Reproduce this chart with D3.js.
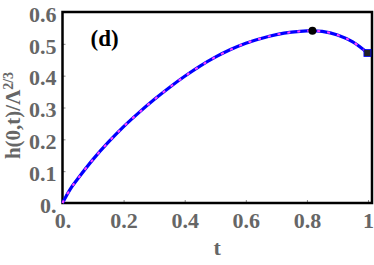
<!DOCTYPE html>
<html>
<head>
<meta charset="utf-8">
<script src="https://cdn.jsdelivr.net/npm/d3@7"></script>
<style>
body { margin: 0; background: #fff; }
.tick text { font-family: "Liberation Serif", "DejaVu Serif", serif; font-weight: bold; fill: #666; }
</style>
</head>
<body>
<svg width="374" height="265"></svg>
<script>
var margin = { top: 12, bottom: 62, left: 62.5, right: 2 };
var width = 374 - margin.left - margin.right;
var height = 265 - margin.top - margin.bottom;

// h(0,t)/Lambda^(2/3) vs t
const tVals = [0, 0.025, 0.05, 0.1, 0.15, 0.2, 0.25, 0.3, 0.35, 0.4, 0.45, 0.5, 0.55, 0.6, 0.65, 0.7, 0.75, 0.8, 0.85, 0.9, 0.95, 1.0];
const hVals = [0, 0.043, 0.076, 0.137, 0.191, 0.240, 0.284, 0.325, 0.363, 0.398, 0.430, 0.458, 0.482, 0.502, 0.517, 0.529, 0.537, 0.541, 0.539, 0.528, 0.506, 0.470];
const peak = [0.818, 0.541];
const endPt = [0.998, 0.471];
const xTicks = [0, 0.2, 0.4, 0.6, 0.8, 1];
const yTicks = [0, 0.1, 0.2, 0.3, 0.4, 0.5, 0.6];

const svg = d3.select("svg")
    .append("g")
    .attr("transform", `translate(${margin.left},${margin.top})`);

const x = d3.scaleLinear().domain([0, 1.013]).range([0, width]);
const y = d3.scaleLinear().domain([0, 0.6]).range([height, 0]);

const fmt = d => d === 0 ? "0." : (d === 1 ? "1" : d3.format(".1f")(d));

svg.append("g")
    .attr("transform", `translate(0,${height})`)
    .call(d3.axisBottom(x).tickValues(xTicks).tickFormat(fmt).tickSizeInner(-3).tickSizeOuter(0).tickPadding(9))
    .call(g => g.select(".domain").remove())
    .call(g => g.selectAll("line").attr("stroke", "#888"))
    .call(g => g.selectAll("text").style("font-size", "22px"));

svg.append("g")
    .call(d3.axisLeft(y).tickValues(yTicks).tickFormat(fmt).tickSizeInner(-3).tickSizeOuter(0).tickPadding(6))
    .call(g => g.select(".domain").remove())
    .call(g => g.selectAll("line").attr("stroke", "#888"))
    .call(g => g.selectAll("text").style("font-size", "22px").attr("dy", "0.42em"));

svg.append("rect")
    .attr("width", width)
    .attr("height", height)
    .attr("fill", "none")
    .attr("stroke", "#000")
    .attr("stroke-width", 2.5);

const pts = tVals.map((t, i) => [t, hVals[i]]);
const line = d3.line().x(d => x(d[0])).y(d => y(d[1])).curve(d3.curveCatmullRom.alpha(0.5));

svg.append("path")
    .datum(pts)
    .attr("d", line)
    .attr("fill", "none")
    .attr("stroke", "#0000ff")
    .attr("stroke-width", 3.2);

svg.append("path")
    .datum(pts)
    .attr("d", line)
    .attr("fill", "none")
    .attr("stroke", "#ff44ff")
    .attr("stroke-width", 2)
    .attr("stroke-dasharray", "3,7");

svg.append("rect")
    .attr("x", x(endPt[0]) - 3.5)
    .attr("y", y(endPt[1]) - 3.5)
    .attr("width", 7)
    .attr("height", 7)
    .attr("fill", "#222")
    .attr("stroke", "#0000ff")
    .attr("stroke-width", 0.8);

svg.append("circle")
    .attr("cx", x(peak[0]))
    .attr("cy", y(peak[1]))
    .attr("r", 4)
    .attr("fill", "#000");

svg.append("text")
    .attr("x", 28)
    .attr("y", 34)
    .attr("font-family", "Liberation Serif, serif")
    .attr("font-weight", "bold")
    .attr("font-size", "23px")
    .text("(d)");

svg.append("text")
    .attr("x", width / 2)
    .attr("y", height + 52)
    .attr("text-anchor", "middle")
    .attr("font-family", "Liberation Serif, serif")
    .attr("font-weight", "bold")
    .attr("font-size", "22px")
    .attr("fill", "#666")
    .text("t");

const yl = svg.append("text")
    .attr("transform", `translate(${-43},${height / 2 + 8}) rotate(-90)`)
    .attr("text-anchor", "middle")
    .attr("font-family", "Liberation Serif, serif")
    .attr("font-weight", "bold")
    .attr("font-size", "21px")
    .attr("fill", "#666");
yl.append("tspan").text("h(0,t)/Λ");
yl.append("tspan").attr("dy", "-0.5em").attr("font-size", "14px").text("2/3");
</script>
</body>
</html>
